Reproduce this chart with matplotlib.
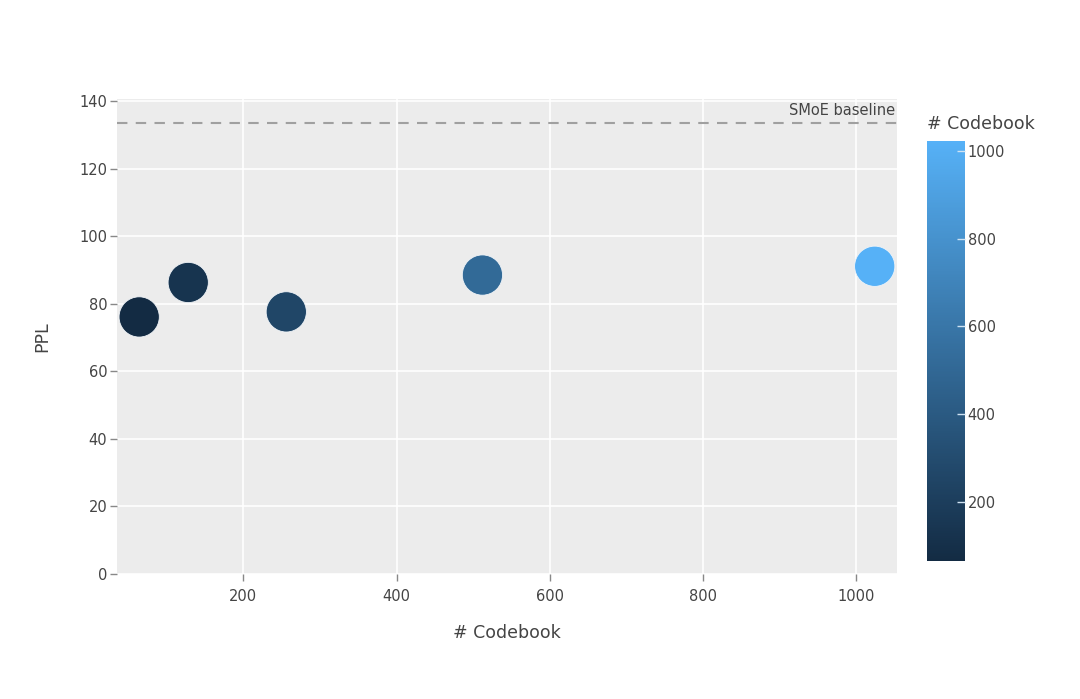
import matplotlib
matplotlib.use('Agg')
import matplotlib.pyplot as plt
from matplotlib.colors import LinearSegmentedColormap, Normalize
from matplotlib.cm import ScalarMappable
import numpy as np

codebook = [64, 128, 256, 512, 1024]
ppl = [76.1, 86.3, 77.6, 88.5, 91.1]
baseline = 133.5
baseline_label = "SMoE baseline"

plt.rcParams['font.family'] = ['DejaVu Sans']
txt = '#444444'

cmap = LinearSegmentedColormap.from_list('gg', ['#132B43', '#56B1F7'])
norm = Normalize(vmin=min(codebook), vmax=max(codebook))

fig = plt.figure(figsize=(10.8, 6.99), dpi=100)
ax = fig.add_axes([0.1083, 0.1788, 0.7222, 0.6795])
ax.set_facecolor('#ECECEC')
for s in ax.spines.values():
    s.set_visible(False)

ax.grid(True, color='white', linewidth=1.2)
ax.set_axisbelow(True)

ax.scatter(codebook, ppl, c=codebook, cmap=cmap, norm=norm, s=840,
           edgecolors='#f0f4f8', linewidths=0.6, zorder=3)

ax.axhline(baseline, color='#a0a0a0', linestyle=(0, (5, 4)), linewidth=1.5, zorder=2)
ax.text(1050, baseline + 1.6, baseline_label, ha='right', va='bottom',
        fontsize=10.5, color=txt)

ax.set_xlim(35, 1053)
ax.set_ylim(0, 140.6)
ax.set_xticks([200, 400, 600, 800, 1000])
ax.set_yticks(np.arange(0, 141, 20))
ax.tick_params(axis='both', direction='out', length=5, width=1, color='#888888',
               labelcolor=txt, labelsize=10.5)
ax.tick_params(axis='x', pad=6)
ax.tick_params(axis='y', pad=2)

ax.set_xlabel('# Codebook', fontsize=12.5, color=txt, labelpad=14)
ax.set_ylabel('PPL', fontsize=12.5, color=txt, labelpad=20)

cax = fig.add_axes([0.8583, 0.1974, 0.0352, 0.601])
sm = ScalarMappable(norm=norm, cmap=cmap)
cb = fig.colorbar(sm, cax=cax)
cb.outline.set_visible(False)
cb.set_ticks([200, 400, 600, 800, 1000])
cax.tick_params(direction='in', length=6, width=1, color='#cfe3f3',
                labelcolor=txt, labelsize=10.5, pad=2)
fig.text(0.8583, 0.810, '# Codebook', fontsize=12.5, color=txt, ha='left', va='bottom')

fig.savefig('out.png', dpi=100)
plt.close(fig)
